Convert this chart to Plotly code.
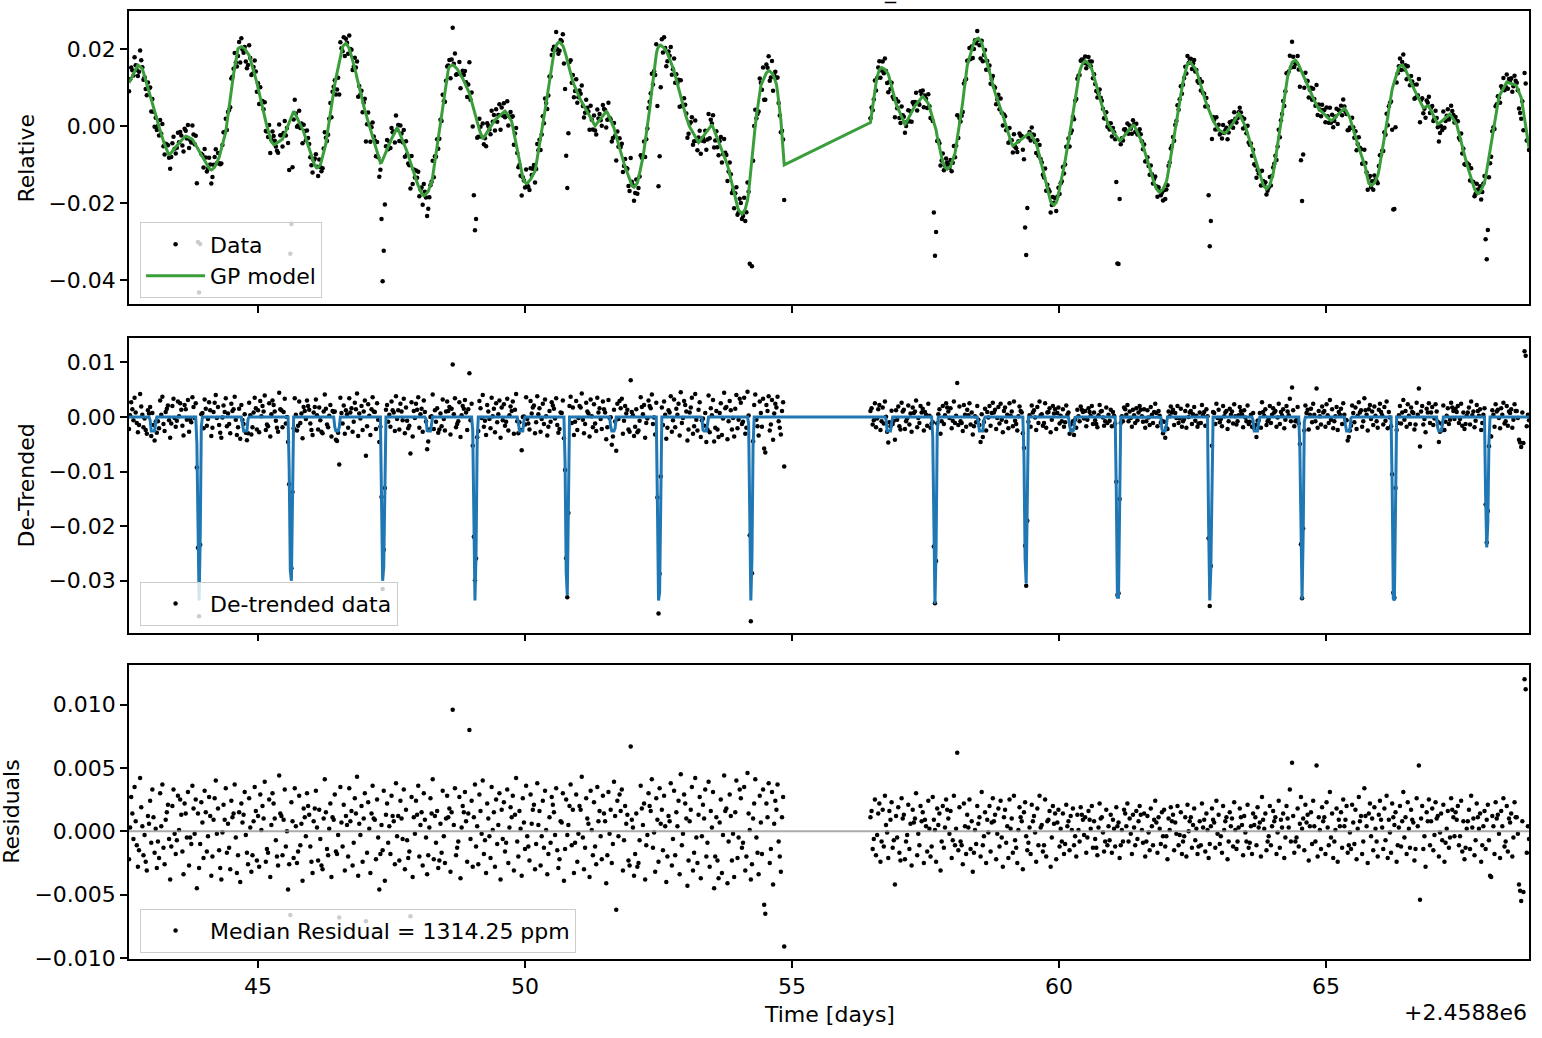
import numpy as np
import plotly.graph_objects as go
from plotly.subplots import make_subplots

# Light curve: GP fit, de-trended transits and residuals.
# Times are days minus 2458800, 30 min cadence, two orbits with a gap.
CADENCE = 1.0 / 48.0
seg1_start = 42.584
seg2_start = 56.47

# residuals, in units of 1e-4
resid_seg1 = [
    -22, 3, 27, 14, -6, 35, 8, -11, -28, -15, 42, 19, 4, -19, -3, -24, -31, 12, 6, 24, -9, 33, 11, -17,
    2, -29, -8, -21, 30, 4, 37, -13, -26, 9, 15, 21, -6, -38, -12, 20, 33, -2, -18, -7, 28, 1, 25, 13,
    -16, -34, 22, 14, -5, 31, -27, -5, -10, 36, 18, -2, 25, -45, 14, -29, -10, 23, 7, -21, 32, 15, -16, -4,
    27, 12, -35, -20, 9, 26, 40, -2, 18, -15, -29, -38, -1, 21, 9, 34, -17, 6, -13, -30, 24, 11, 14, 37,
    -5, -33, -19, 15, -40, 22, 7, 13, 31, -3, -17, -26, 26, 3, -32, -19, 8, 35, 16, -23, 12, -28, 29, 1,
    20, 10, 39, -24, -14, -17, 25, -36, 5, 30, 22, 10, -7, -20, -27, 44, 14, 12, -19, 9, 33, -12, 0, -46,
    -26, -66, 23, 8, -21, 34, 4, -25, -16, 28, -11, 6, -39, 18, 11, -4, 30, 20, 13, -12, -24, -33, 8, 18,
    32, 3, -23, 17, -6, -27, -30, 10, 41, 15, -14, -19, 2, 22, -36, 11, 9, 29, -16, -18, -3, -68, 35, 7,
    -12, 21, -31, 12, 5, -20, 34, 8, 16, -27, -9, 26, 14, 43, -35, 6, -3, 20, -24, 10, 30, -71, -17, 23,
    2, -33, 14, 36, 10, 9, -22, 25, -5, -46, -18, 5, -15, 32, -39, 13, 22, -9, 4, -18, 28, 12, 8, -26,
    38, -4, 12, -23, 24, 10, -6, 33, -30, 17, -7, -21, -16, -67, 27, -36, 11, -2, 24, 13, 36, -20, 5, 15,
    -27, 30, 9, -5, -34, -19, 3, 26, 14, 41, -22, 12, -9, 16, -29, -23, 6, -17, 32, -4, -25, 10, 28, 11,
    18, -32, 15, 96, 5, 34, -19, -13, -8, 27, -37, 3, 20, 15, 31, 8, -24, 14, 80, -6, 24, -28, 11, 37,
    -12, 4, -26, 29, 16, -2, 40, -18, -7, -33, 22, 10, -4, -21, 35, 1, 15, -28, 25, -10, 5, 30, -38, 17,
    -6, 23, -16, -9, 33, -25, 3, 19, 11, 28, -31, 13, 42, -8, -20, 16, 2, -35, 26, 7, -14, 36, -4, -12,
    -23, 29, 6, 17, 21, -30, -10, 38, 5, 16, -27, -4, 24, -13, 32, 1, -34, -18, 11, -9, 27, 21, 15, -3,
    34, -15, -29, -22, 8, 7, 30, -39, -14, 25, -3, 5, 20, 37, -11, 17, -33, -9, 29, -24, -2, 20, 17, 43,
    -5, -30, -13, 26, 10, 6, -36, 32, 1, -19, 23, -12, -26, 35, 8, 16, -4, -22, 28, 14, 8, -41, -19, 31,
    -2, 17, -25, -10, 39, 12, -62, 24, -4, 29, 16, 33, -31, -7, 20, 6, 13, -23, -27, 67, 9, 3, -35, -18,
    14, -28, -25, -7, 36, 18, 5, 22, -38, -11, -3, 30, 20, 16, 41, -13, -1, -32, 26, 9, -24, 34, 6, 17,
    -15, 28, 4, -40, -20, 12, 8, 38, -27, -6, 32, -19, 15, 4, 24, -34, 45, -11, -2, 29, 22, 10, -43, -23,
    8, 17, 35, -31, -17, 42, -5, -25, 13, 27, -37, -4, 21, 10, 33, -20, -9, 39, -28, 16, 3, 31, -45, -20,
    11, -23, -37, 7, 25, -33, -3, 44, 16, 18, -41, -8, 29, 12, -23, -2, -36, 15, 40, -21, -5, 33, 26, -13,
    -9, 35, -31, -20, 46, 14, 1, -38, -26, 10, 22, 41, -5, -17, -34, 28, 7, -18, 33, -58, -65, 22, 11, 38,
    -25, -14, 31, -42, 6, 24, 17, 37, -8, -20, -32, 11, 27, -91,
]
resid_seg2 = [
    11, 16, -14, -6, 25, -19, -3, 14, 22, -24, -8, 17, -12, 28, 5, -1, -21, 16, 9, 23, -13, -7, -42, 12,
    -5, 19, -17, -23, 26, 10, 13, -22, -8, -3, 21, -14, 6, -27, 17, 7, 10, 30, -19, -2, -11, 20, 8, 15,
    -25, 9, 4, -16, 24, 2, -20, -12, 27, 9, 1, -24, 18, 5, 14, -31, -8, 20, -13, 3, 25, 17, 10, -2,
    16, -21, -7, 28, -11, 2, 62, -15, 19, -8, -11, -26, 22, 4, -18, 13, 3, 25, -14, 8, -32, -17, 1, -10,
    20, 6, 11, -20, 31, -11, -4, 15, -25, 9, -1, 20, -16, 7, 26, 8, 13, -22, -2, 18, -12, 24, -5, -28,
    11, 17, -9, 4, -21, 25, 2, 10, -17, 28, -7, -13, -25, 1, 19, 11, 8, -30, 15, 23, -4, -15, -9, 3,
    -18, 21, 8, 12, -1, -24, 18, -11, 28, 3, 5, -16, -11, 25, -20, 8, 9, 16, -28, -5, 20, 6, 14, -22,
    7, 17, -12, 2, -8, 14, -18, -10, 21, 4, 8, -15, 12, 1, 18, -11, -4, -20, 13, 1, -8, 19, 13, 9,
    -3, 11, -17, -5, 16, 9, 2, 20, -13, 8, -6, -13, -19, 3, 22, 10, 11, -1, -16, -8, 17, -11, 4, -7,
    13, -17, 9, 2, -12, 19, 4, 7, -21, -11, 1, -8, 17, 14, 4, 22, -8, 10, -2, -18, 13, 3, -11, 16,
    -6, 8, 20, 13, 1, -9, 14, -20, -8, 12, -1, -15, 18, 4, -11, 9, 24, 7, -17, 11, 2, -10, 15, -4,
    17, -12, -4, -22, 10, 1, 19, 8, 13, -15, 7, -2, 20, -11, -3, 15, -18, -8, -4, 11, -20, 21, 0, 8,
    11, -13, 5, 18, -7, 2, -18, -12, 8, -11, 22, 3, 9, -16, 14, 1, -21, -10, 4, 18, 9, 7, -13, 24,
    -2, 13, -10, -4, -17, 20, 1, 8, 11, -22, -8, 15, 4, 10, -12, 23, 1, -14, -8, 3, 18, 11, 5, -19,
    12, -1, -8, 21, -13, -9, 4, -18, 14, 5, 11, -11, 19, 3, 7, -20, 27, 9, 2, 14, -15, -8, -4, 20,
    -11, 4, 16, 8, 11, -18, -1, 24, -13, 9, 3, 14, -21, -5, 20, 10, 3, 33, -8, 54, 12, -17, -8, -5,
    18, -12, 6, 27, 2, 10, -15, 21, 7, 13, -23, 4, 15, -10, 24, 4, -8, 52, -20, 11, 1, -14, 19, 8,
    11, -18, 23, 3, -11, 31, -5, 14, -21, -8, 1, 18, -24, 9, 4, 15, -13, 25, 4, 9, 20, -17, -11, -1,
    -14, 21, 7, -10, 17, -22, 2, 27, 8, 12, -18, -8, 34, 12, 4, -25, 14, 22, -4, 10, -15, 19, 2, -8,
    -20, 13, 24, 9, 3, -14, 18, -7, 28, -21, 9, -1, -17, 22, 11, 5, 15, -24, -11, 3, 20, -12, 8, 31,
    -5, 11, -18, 23, 2, -13, 17, 9, 7, -23, -14, 26, 4, 52, -54, 10, 20, -14, -4, -28, 15, 8, 25, -11,
    8, 18, -15, -3, 23, 10, 12, -20, -1, 14, -7, 21, -24, -9, 2, 16, -13, -5, 26, 17, 11, -4, 15, 9,
    20, -11, -4, 24, -16, 8, -22, -13, 2, 8, 17, -14, 28, 3, 10, -19, -7, 22, 11, 2, 14, -24, -11, 4,
    16, -14, 9, 21, -7, -35, -36, 12, 4, -18, 23, 10, 13, -2, -21, 16, 4, 26, -12, -8, 20, -16, 10, 7,
    14, -20, -5, 23, 11, 11, -2, -42, -47, -55, 8, -48, 120, 112, -17, 4, -6,
]

# GP model (time, relative flux)
gp_t = [
    42.584, 42.74, 42.83, 43.02, 43.18, 43.33, 43.49, 43.65, 43.77, 43.96, 44.13, 44.27, 44.40, 44.49,
    44.68, 44.83, 44.96, 45.08, 45.24, 45.30, 45.46, 45.67, 45.83, 45.99, 46.11, 46.27, 46.39, 46.52,
    46.64, 46.80, 46.95, 47.08, 47.30, 47.45, 47.61, 47.77, 47.92, 48.11, 48.26, 48.42, 48.64, 48.80,
    48.95, 49.11, 49.21, 49.41, 49.63, 49.75, 49.87, 50.03, 50.19, 50.31, 50.44, 50.53, 50.64, 50.75,
    50.87, 51.00, 51.16, 51.31, 51.53, 51.65, 51.78, 51.90, 52.04, 52.19, 52.31, 52.40, 52.53, 52.65,
    52.78, 52.90, 53.06, 53.25, 53.50, 53.65, 53.81, 53.93, 54.06, 54.18, 54.27, 54.40, 54.57, 54.71,
    54.78, 54.855,
    56.47, 56.52, 56.59, 56.68, 56.81, 56.93, 57.12, 57.27, 57.45, 57.55, 57.68, 57.77, 57.91, 58.05,
    58.18, 58.27, 58.40, 58.49, 58.61, 58.77, 58.93, 59.05, 59.13, 59.30, 59.46, 59.58, 59.71, 59.90,
    60.02, 60.15, 60.27, 60.37, 60.49, 60.62, 60.74, 60.92, 61.14, 61.40, 61.55, 61.67, 61.88, 62.02,
    62.15, 62.27, 62.45, 62.58, 62.70, 62.86, 62.98, 63.11, 63.23, 63.37, 63.48, 63.61, 63.76, 63.89,
    64.01, 64.14, 64.26, 64.42, 64.54, 64.70, 64.85, 65.10, 65.35, 65.45, 65.57, 65.73, 65.85, 65.98,
    66.10, 66.23, 66.42, 66.54, 66.67, 66.82, 66.92, 67.10, 67.32, 67.45, 67.57, 67.73, 67.85, 67.98,
    68.10, 68.23, 68.38, 68.56, 68.66, 68.80,
]
gp_v = [
    0.0112, 0.0159, 0.0150, 0.0064, -0.0021, -0.0077, -0.0047, -0.0026, -0.0034, -0.0082, -0.0114, -0.0082, -0.0013, 0.0090,
    0.0206, 0.0185, 0.0125, 0.0047, -0.0039, -0.0049, -0.0034, 0.0039, -0.0004, -0.0073, -0.0109, -0.0047, 0.0073, 0.0168,
    0.0215, 0.0159, 0.0064, 0.0004, -0.0099, -0.0047, -0.0004, -0.0056, -0.0125, -0.0181, -0.0142, 0.0013, 0.0159, 0.0133,
    0.0090, 0.0004, -0.0034, 0.0013, 0.0039, 0.0013, -0.0073, -0.0150, -0.0116, -0.0021, 0.0099, 0.0185, 0.0218, 0.0194,
    0.0125, 0.0077, 0.0039, 0.0000, 0.0039, 0.0004, -0.0065, -0.0116, -0.0159, -0.0099, 0.0013, 0.0125, 0.0211, 0.0194,
    0.0150, 0.0082, 0.0004, -0.0043, 0.0004, -0.0047, -0.0108, -0.0185, -0.0228, -0.0185, -0.0047, 0.0099, 0.0144, 0.0108,
    0.0039, -0.0101,
    0.0009, 0.0064, 0.0125, 0.0152, 0.0133, 0.0064, 0.0003, 0.0047, 0.0077, 0.0060, 0.0004, -0.0065, -0.0112, -0.0073,
    0.0039, 0.0150, 0.0215, 0.0228, 0.0185, 0.0099, 0.0039, -0.0021, -0.0052, -0.0034, -0.0017, -0.0047, -0.0116, -0.0206,
    -0.0159, -0.0065, 0.0039, 0.0133, 0.0169, 0.0146, 0.0082, 0.0004, -0.0039, 0.0004, -0.0039, -0.0099, -0.0172, -0.0142,
    -0.0030, 0.0080, 0.0166, 0.0142, 0.0082, 0.0021, -0.0009, -0.0020, 0.0000, 0.0034, 0.0004, -0.0056, -0.0125, -0.0163,
    -0.0125, -0.0013, 0.0116, 0.0172, 0.0142, 0.0090, 0.0047, 0.0013, 0.0047, 0.0021, -0.0039, -0.0099, -0.0155, -0.0125,
    -0.0030, 0.0090, 0.0159, 0.0129, 0.0090, 0.0047, 0.0053, 0.0004, 0.0032, 0.0004, -0.0065, -0.0142, -0.0176, -0.0142,
    -0.0039, 0.0073, 0.0114, 0.0106, 0.0073, -0.0056,
]
# extra points read on the rounded shoulders of the main peaks and dips
gp_shoulder_t = [
    44.62, 44.74, 46.58, 46.70, 48.57, 48.71, 50.59, 50.70, 52.47, 52.59, 54.51, 54.64,
    56.63, 56.74, 58.44, 58.55, 60.43, 60.56, 62.39, 62.51, 64.35, 64.48, 66.35, 66.48,
    44.07, 44.19, 46.05, 46.17, 48.05, 48.18, 49.97, 50.09, 51.98, 52.10, 54.00, 54.12,
    57.85, 57.97, 59.84, 59.96, 61.82, 61.95, 63.83, 63.95, 65.79, 65.91, 67.79, 67.91,
]
gp_shoulder_v = [
    0.0200, 0.0202, 0.0205, 0.0205, 0.0152, 0.0152, 0.0212, 0.0211, 0.0197, 0.0205, 0.0136, 0.0136,
    0.0145, 0.0147, 0.0224, 0.0218, 0.0160, 0.0162, 0.0158, 0.0158, 0.0162, 0.0162, 0.0150, 0.0150,
    -0.0108, -0.0106, -0.0100, -0.0100, -0.0172, -0.0172, -0.0140, -0.0142, -0.0150, -0.0150, -0.0218, -0.0218,
    -0.0104, -0.0104, -0.0195, -0.0196, -0.0162, -0.0163, -0.0154, -0.0152, -0.0146, -0.0147, -0.0166, -0.0166,
]

# eclipses
primary_t = [43.895, 45.618, 47.341, 49.064, 50.787, 52.509, 54.232,
             57.678, 59.382, 61.105, 62.828, 64.551, 66.273, 68.015]
primary_depth = [0.0336, 0.0300, 0.0300, 0.0336, 0.0327, 0.0336, 0.0336,
                 0.0342, 0.0305, 0.0330, 0.0336, 0.0334, 0.0336, 0.0239]
secondary_t = [43.034, 44.757, 46.480, 48.203, 49.926, 51.648, 53.371,
               56.817, 58.540, 60.244, 61.967, 63.690, 65.412, 67.135]
secondary_depth = 0.0026

median_resid_ppm = 1314.25


def eclipse_model(t):
    m = np.zeros_like(t)
    for tc, d in zip(primary_t, primary_depth):
        m -= d * np.clip((0.045 - np.abs(t - tc)) / 0.034, 0, 1)
    for tc in secondary_t:
        m -= secondary_depth * np.clip((0.06 - np.abs(t - tc)) / 0.025, 0, 1)
    return m


t = np.concatenate([seg1_start + CADENCE * np.arange(len(resid_seg1)),
                    seg2_start + CADENCE * np.arange(len(resid_seg2))])
resid = np.array(resid_seg1 + resid_seg2) * 1e-4

knot_t = np.array(gp_t + gp_shoulder_t)
knot_v = np.array(gp_v + gp_shoulder_v)
order = np.argsort(knot_t)
gp = np.interp(t, knot_t[order], knot_v[order])

model = eclipse_model(t)
flux = gp + model + resid
detrended = model + resid

fig = make_subplots(rows=3, cols=1, shared_xaxes=True)

dot = dict(color="black", size=4.5)
fig.add_trace(go.Scatter(x=t, y=flux, mode="markers", marker=dot, name="Data",
                         legend="legend"), row=1, col=1)
fig.add_trace(go.Scatter(x=t, y=gp, mode="lines", line=dict(color="#3a9e3a", width=3),
                         name="GP model", legend="legend"), row=1, col=1)
fig.add_trace(go.Scatter(x=t, y=detrended, mode="markers", marker=dot, name="De-trended data",
                         legend="legend2"), row=2, col=1)
fig.add_trace(go.Scatter(x=t, y=model, mode="lines", line=dict(color="#1f77b4", width=3),
                         showlegend=False), row=2, col=1)
fig.add_trace(go.Scatter(x=t, y=resid, mode="markers", marker=dot,
                         name=f"Median Residual = {median_resid_ppm} ppm", legend="legend3"), row=3, col=1)
fig.add_hline(y=0, line=dict(color="rgba(150,150,150,0.8)", width=2), row=3, col=1)

axis = dict(showline=True, linecolor="black", linewidth=1.6, mirror=True, ticks="outside",
            ticklen=7, tickwidth=1.6, tickcolor="black", showgrid=False, zeroline=False)
xticks = [45, 50, 55, 60, 65]
for r in (1, 2, 3):
    fig.update_xaxes(axis, range=[t.min(), t.max()], tickvals=xticks,
                     ticktext=[str(v) for v in xticks], showticklabels=(r == 3), row=r, col=1)

fig.update_yaxes(axis, range=[-0.0462, 0.0298], tickvals=[0.02, 0.0, -0.02, -0.04],
                 ticktext=["0.02", "0.00", "−0.02", "−0.04"], row=1, col=1)
fig.update_yaxes(axis, range=[-0.0395, 0.01438], tickvals=[0.01, 0.0, -0.01, -0.02, -0.03],
                 ticktext=["0.01", "0.00", "−0.01", "−0.02", "−0.03"], row=2, col=1)
fig.update_yaxes(axis, range=[-0.01008, 0.01315], tickvals=[0.01, 0.005, 0.0, -0.005, -0.01],
                 ticktext=["0.010", "0.005", "0.000", "−0.005", "−0.010"], row=3, col=1)

leg = dict(xanchor="left", yanchor="top", x=0.0079, bgcolor="rgba(255,255,255,0.8)",
           bordercolor="#cccccc", borderwidth=1, itemwidth=59, font=dict(size=22))
fig.update_layout(
    width=1542, height=1038,
    margin=dict(l=129, r=13, t=9, b=79),
    plot_bgcolor="white", paper_bgcolor="white",
    font=dict(family="DejaVu Sans", size=22, color="black"),
    yaxis=dict(domain=[0.6905, 1.0]),
    yaxis2=dict(domain=[0.3442, 0.6547]),
    yaxis3=dict(domain=[0.0, 0.3105]),
    legend=dict(leg, y=0.777),
    legend2=dict(leg, y=0.398),
    legend3=dict(leg, y=0.053),
)

labels = [("Relative", -0.0729, 0.8453), ("De-Trended", -0.0729, 0.4995),
          ("Residuals", -0.0836, 0.1553)]
for text, x, y in labels:
    fig.add_annotation(text=text, x=x, y=y, xref="paper", yref="paper", textangle=-90,
                       showarrow=False, xanchor="center", yanchor="middle")
fig.add_annotation(text="Time [days]", x=0.5, y=-0.0589, xref="paper", yref="paper",
                   showarrow=False, xanchor="center", yanchor="middle")
fig.add_annotation(text="+2.4588e6", x=1.0, y=-0.0568, xref="paper", yref="paper",
                   showarrow=False, xanchor="right", yanchor="middle")
# clipped title: only the underscore reaches into the figure
fig.add_annotation(text="_", x=0.5436, y=1.005, xref="paper", yref="paper",
                   showarrow=False, xanchor="center", yanchor="bottom")

# the page has a default 8px body margin; drop it so the figure sits at the corner
fig.write_html("out.html", config={"displayModeBar": False},
               post_script="document.body.style.margin = '0';")
